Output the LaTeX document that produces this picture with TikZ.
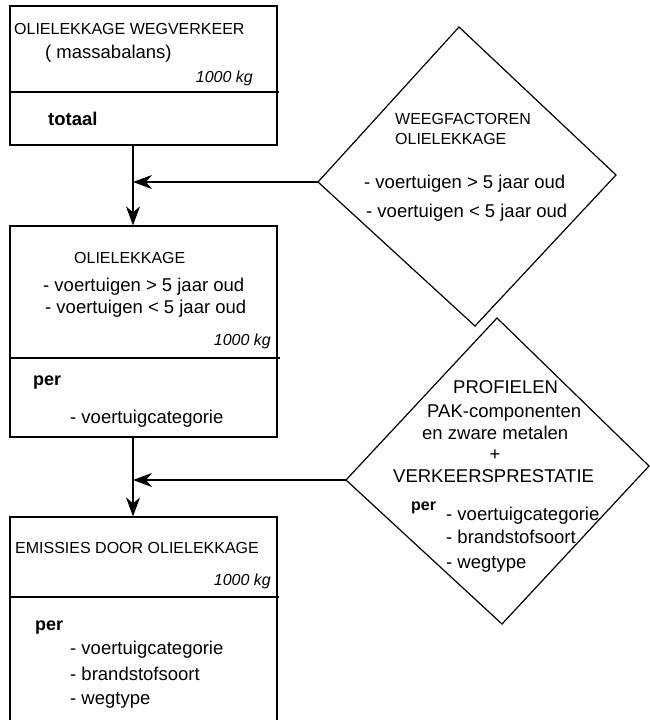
\documentclass[tikz,border=0pt]{standalone}
\usepackage{fontspec}
\setmainfont{Liberation Sans}
\usetikzlibrary{arrows.meta}
\tikzset{
  box/.style={draw, line width=1.2pt, rectangle, inner sep=0pt, minimum width=267pt},
  caps/.style={anchor=base west, inner sep=0pt, font=\fontsize{16}{19}\selectfont},
  body/.style={anchor=base west, inner sep=0pt, font=\fontsize{18.5}{22}\selectfont},
  flow/.style={line width=1.2pt, -{Stealth[length=19pt, width=14pt, inset=6pt]}}
}

\begin{document}
\begin{tikzpicture}[x=1pt, y=-1pt, line join=miter]
						\clip (0,0) rectangle (650,720);
						\fill[white] (0,0) rectangle (650,720);

						% boxes on the left
						\node[box, minimum height=139pt] (totaal) at (143.5,75.5) {};
						\node[box, minimum height=211pt] (lekkage) at (143.5,331.5) {};
						\node[box, minimum height=223pt] (emissie) at (143.5,628.5) {};

						\draw[line width=1.2pt] (totaal.west |- 0,92) -- (279,92);
						\draw[line width=1.2pt] (lekkage.west |- 0,358) -- (280,358);
						\draw[line width=1.2pt] (emissie.west |- 0,597) -- (279,597);

						\node[caps] (t1) at (14,34) {OLIELEKKAGE WEGVERKEER};
						\node[body] (t2) at (45,58) {( massabalans)};
						\node[caps, anchor=base east] (t3) at (253,82) {\itshape 1000 kg};
						\node[body] (t4) at (48,125) {\bfseries totaal};

						\node[caps] (l1) at (74,263) {OLIELEKKAGE};
						\node[body] (l2) at (43,291) {- voertuigen > 5 jaar oud};
						\node[body] (l3) at (45,313) {- voertuigen < 5 jaar oud};
						\node[caps, anchor=base east] (l4) at (271,345) {\itshape 1000 kg};
						\node[body, font=\fontsize{18}{22}\selectfont\bfseries] (l5) at (33,385) {per};
						\node[body] (l6) at (70,423) {- voertuigcategorie};

						\node[caps] (e1) at (15,553) {EMISSIES DOOR OLIELEKKAGE};
						\node[caps, anchor=base east] (e2) at (271,585) {\itshape 1000 kg};
						\node[body, font=\fontsize{18}{22}\selectfont\bfseries] (e3) at (35,630) {per};
						\node[body] (e4) at (70,654) {- voertuigcategorie};
						\node[body] (e5) at (70,680) {- brandstofsoort};
						\node[body] (e6) at (70,704) {- wegtype};

						% diamonds on the right
						\coordinate (wfT) at (459,27);
						\coordinate (wfL) at (318,182);
						\coordinate (wfB) at (475,326);
						\coordinate (wfR) at (616,175);
						\draw[line width=1.2pt] (wfT) -- (wfR) -- (wfB) -- (wfL) -- cycle;

						\node[caps] (w1) at (395,124) {WEEGFACTOREN};
						\node[caps] (w2) at (395,144) {OLIELEKKAGE};
						\node[body] (w3) at (364,188) {- voertuigen > 5 jaar oud};
						\node[body] (w4) at (366,217) {- voertuigen < 5 jaar oud};

						\coordinate (prT) at (497,318);
						\coordinate (prL) at (346,480);
						\coordinate (prB) at (502,624);
						\coordinate (prR) at (649,466);
						\draw[line width=1.2pt] (prT) -- (prR) -- (prB) -- (prL) -- cycle;

						\node[body] (p1) at (453,393) {PROFIELEN};
						\node[body] (p2) at (427,417) {PAK-componenten};
						\node[body] (p3) at (422,439) {en zware metalen};
						\node[body, anchor=base] (p4) at (495,460) {+};
						\node[body] (p5) at (393,482) {VERKEERSPRESTATIE};
						\node[caps, font=\fontsize{16}{19}\selectfont\bfseries] (p6) at (411,510) {per};
						\node[body] (p7) at (446,520) {- voertuigcategorie};
						\node[body] (p8) at (446,543) {- brandstofsoort};
						\node[body] (p9) at (446,568) {- wegtype};

						% connectors
						\coordinate (j1) at (133,182);
						\coordinate (j2) at (133,480);
						\draw[flow] (wfL) -- (j1);
						\draw[flow] (totaal.south -| j1) -- (lekkage.north -| j1);
						\draw[flow] (prL) -- (j2);
						\draw[flow] (lekkage.south -| j2) -- (emissie.north -| j2);
					\end{tikzpicture}
\end{document}
